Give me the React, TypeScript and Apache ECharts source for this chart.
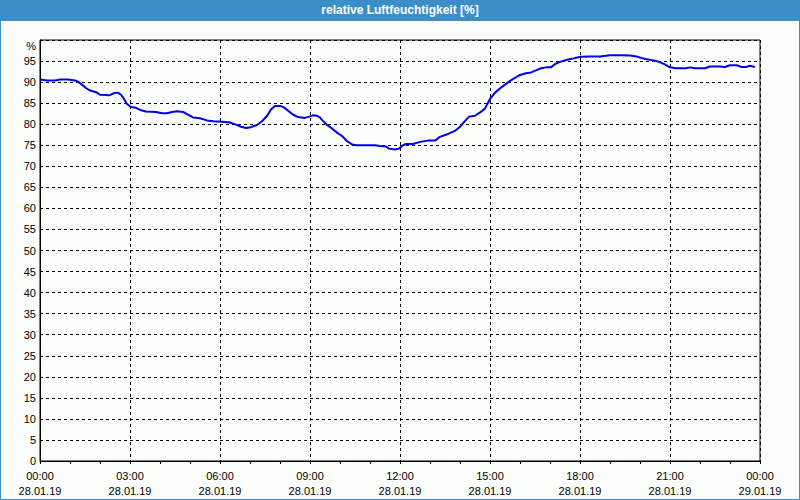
import React, { useEffect, useRef } from "react";
import * as echarts from "echarts";

const titleText = "relative Luftfeuchtigkeit [%]";

// hours since 28.01.19 00:00
const hours = [
  0.0, 0.23, 0.5, 0.67, 0.93, 1.17, 1.27, 1.4, 1.53, 1.67, 1.87, 2.0, 2.33, 2.47, 2.6, 2.7, 2.8, 2.9,
  3.03, 3.2, 3.37, 3.53, 3.87, 4.07, 4.23, 4.4, 4.57, 4.77, 4.93, 5.1, 5.33, 5.57, 5.77,
  6.07, 6.33, 6.53, 6.7, 6.87, 7.03, 7.23, 7.4, 7.57, 7.7, 7.83, 8.03, 8.13, 8.27, 8.43, 8.6, 8.83, 8.97,
  9.1, 9.23, 9.33, 9.43, 9.57, 9.73, 9.9, 10.07, 10.23, 10.4, 10.57, 10.87, 11.17, 11.33, 11.53, 11.63, 11.83, 11.97,
  12.1, 12.2, 12.43, 12.67, 12.93, 13.17, 13.33, 13.57, 13.83, 14.0, 14.17, 14.3, 14.5, 14.67, 14.83,
  15.0, 15.17, 15.33, 15.5, 15.67, 15.83, 16.0, 16.2, 16.37, 16.53, 16.7, 16.87, 17.03, 17.17, 17.33, 17.57, 17.83,
  18.03, 18.33, 18.67, 19.0, 19.33, 19.67, 19.93, 20.17, 20.5, 20.67, 20.83,
  21.0, 21.2, 21.53, 21.67, 21.83, 22.17, 22.33, 22.67, 22.83, 23.0, 23.23, 23.37, 23.53, 23.67, 23.83,
];

const humidity = [
  90.6, 90.4, 90.4, 90.6, 90.6, 90.4, 90.1, 89.4, 88.6, 88.0, 87.6, 87.0, 86.9, 87.4, 87.5, 87.0, 86.0, 84.8,
  84.1, 83.9, 83.3, 83.0, 82.9, 82.6, 82.6, 82.9, 83.1, 82.9, 82.3, 81.6, 81.4, 80.9, 80.7,
  80.6, 80.4, 79.9, 79.4, 79.1, 79.3, 79.8, 80.7, 82.0, 83.5, 84.3, 84.3, 84.0, 83.2, 82.3, 81.7, 81.5, 81.8,
  82.1, 82.0, 81.6, 80.8, 79.8, 79.0, 78.0, 77.2, 76.0, 75.2, 75.0, 75.0, 75.0, 74.8, 74.7, 74.2, 74.0, 74.2,
  75.0, 75.3, 75.3, 75.8, 76.1, 76.1, 77.0, 77.6, 78.4, 79.4, 80.8, 81.8, 82.0, 82.8, 83.7,
  86.0, 87.5, 88.5, 89.4, 90.3, 91.0, 91.7, 92.1, 92.3, 92.8, 93.3, 93.5, 93.5, 94.3, 94.8, 95.3, 95.7,
  96.0, 96.1, 96.1, 96.4, 96.4, 96.3, 96.0, 95.5, 95.1, 94.7, 94.2,
  93.5, 93.3, 93.3, 93.5, 93.3, 93.3, 93.7, 93.7, 93.6, 94.0, 94.0, 93.6, 93.6, 93.9, 93.6,
];

const xTickLabels = [
  "00:00\n28.01.19",
  "03:00\n28.01.19",
  "06:00\n28.01.19",
  "09:00\n28.01.19",
  "12:00\n28.01.19",
  "15:00\n28.01.19",
  "18:00\n28.01.19",
  "21:00\n28.01.19",
  "00:00\n29.01.19",
];

const yUnitLabel = "%";

const FONT = "'Liberation Sans', Arial, sans-serif";

export default function App() {
  const ref = useRef<HTMLDivElement>(null);

  useEffect(() => {
    document.body.style.margin = "0";
    const chart = echarts.init(ref.current!, null, { renderer: "svg" });
    const data = hours.map((h, i) => [h, humidity[i]]);
    chart.setOption({
      animation: false,
      backgroundColor: "#fcfefc",
      title: {
        text: titleText,
        left: "center",
        top: 3,
        padding: 0,
        textStyle: {
          color: "#ffffff",
          fontFamily: FONT,
          fontSize: 12,
          fontWeight: "bold",
          lineHeight: 14,
        },
      },
      graphic: [
        {
          type: "rect",
          z: -1,
          shape: { x: 0, y: 0, width: 800, height: 21 },
          style: { fill: "#3c8fc6" },
          silent: true,
        },
        {
          type: "rect",
          z: -1,
          shape: { x: 0.5, y: 0.5, width: 799, height: 499 },
          style: { fill: "none", stroke: "#3c8fc6", lineWidth: 1 },
          silent: true,
        },
        {
          type: "text",
          x: 36,
          y: 46,
          style: {
            text: yUnitLabel,
            fill: "#000",
            font: `11px ${FONT}`,
            align: "right",
            verticalAlign: "middle",
          },
        },
      ],
      grid: {
        left: 40,
        right: 40,
        top: 40,
        bottom: 39,
        show: true,
        borderColor: "#000",
        borderWidth: 1,
        backgroundColor: "transparent",
      },
      xAxis: {
        type: "value",
        min: 0,
        max: 24,
        interval: 3,
        axisLine: { show: true, lineStyle: { color: "#000", width: 1 } },
        axisTick: { show: true, length: 3, lineStyle: { color: "#000" } },
        minorTick: { show: true, splitNumber: 3, length: 3, lineStyle: { color: "#000" } },
        splitLine: { show: true, lineStyle: { color: "#000", type: [3, 3], width: 1 } },
        axisLabel: {
          color: "#000",
          fontFamily: FONT,
          fontSize: 11,
          lineHeight: 15,
          margin: 7,
          formatter: (v: number) => xTickLabels[Math.round(v / 3)] ?? "",
        },
      },
      yAxis: {
        type: "value",
        min: 0,
        max: 100,
        interval: 5,
        axisLine: { show: true, lineStyle: { color: "#000", width: 1 } },
        axisTick: { show: false },
        splitLine: { show: true, lineStyle: { color: "#000", type: [3, 3], width: 1 } },
        axisLabel: {
          color: "#000",
          fontFamily: FONT,
          fontSize: 11,
          margin: 4,
          formatter: (v: number) => (v >= 100 ? "" : String(v)),
        },
      },
      series: [
        {
          type: "line",
          data,
          showSymbol: false,
          lineStyle: { color: "#0000ee", width: 2 },
          itemStyle: { color: "#0000ee" },
        },
      ],
    });
    return () => chart.dispose();
  }, []);

  return (
    <div
      ref={ref}
      style={{ position: "fixed", left: 0, top: 0, width: 800, height: 500 }}
    />
  );
}
